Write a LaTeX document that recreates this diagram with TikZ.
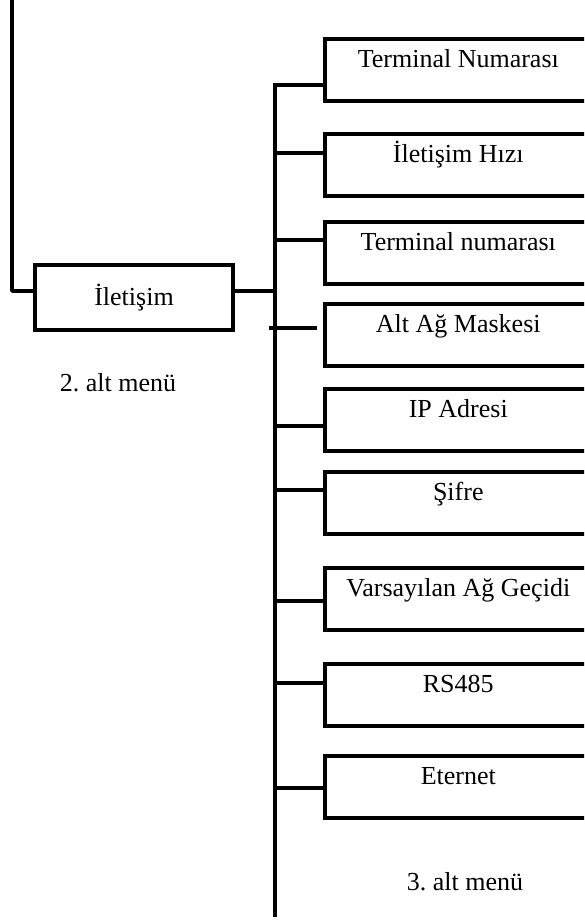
\documentclass[tikz,border=0pt]{standalone}
\usepackage{fontspec}
\setmainfont{Liberation Serif}
\frenchspacing
\begin{document}
\begin{tikzpicture}[x=1pt,y=-1pt,line width=3.6pt,
  txt/.style={font=\fontsize{26}{30}\selectfont, inner sep=0pt},
  menubox/.style={draw, rectangle, inner sep=0pt, minimum width=267pt,
    text height=29pt, text depth=33pt, anchor=north west,
    font=\fontsize{26}{30}\selectfont},
  mainbox/.style={draw, rectangle, inner sep=0pt, minimum width=198pt,
    minimum height=65pt, font=\fontsize{26}{30}\selectfont}]
\useasboundingbox (0,0) rectangle (584,921);
\clip (0,0) rectangle (584,921);

% second-level box
\node[mainbox] (il) at (134,297.5) {İletişim};
\coordinate (ltop) at (12,-5);
\coordinate (lcorner) at (12,291);
\draw[line join=round] (ltop) -- (lcorner) -- (lcorner -| il.west);

% trunk
\coordinate (ttop) at (275,85);
\coordinate (tbot) at (275,917);
\coordinate (tjoin) at (275,291);
\draw (il.east |- tjoin) -- (tjoin);

% third-level boxes
\node[menubox] (b1) at (323,37)  {Terminal Numarası};
\node[menubox] (b2) at (323,132) {İletişim Hızı};
\node[menubox] (b3) at (323,220) {Terminal numarası};
\node[menubox] (b4) at (323,302) {Alt Ağ Maskesi};
\node[menubox] (b5) at (323,387) {IP Adresi};
\node[menubox] (b6) at (323,470) {Şifre};
\node[menubox] (b7) at (323,566) {Varsayılan Ağ Geçidi};
\node[menubox] (b8) at (323,662) {RS485};
\node[menubox] (b9) at (323,754) {Eternet};

\draw[line join=miter] (b1.west |- ttop) -- (ttop) -- (tbot);

\coordinate (c2) at (275,153);
\coordinate (c3) at (275,240);
\coordinate (c5) at (275,426);
\coordinate (c6) at (275,490);
\coordinate (c7) at (275,601);
\coordinate (c8) at (275,683);
\coordinate (c9) at (275,788);
\foreach \i in {2,3,5,6,7,8,9}
  \draw (c\i) -- (c\i -| b\i.west);

\coordinate (c4a) at (269,328);
\coordinate (c4b) at (317,328);
\draw (c4a) -- (c4b);

% labels
\node[txt] (l2) at (118,383) {2. alt menü};
\node[txt] (l3) at (465,882) {3. alt menü};
\end{tikzpicture}
\end{document}
